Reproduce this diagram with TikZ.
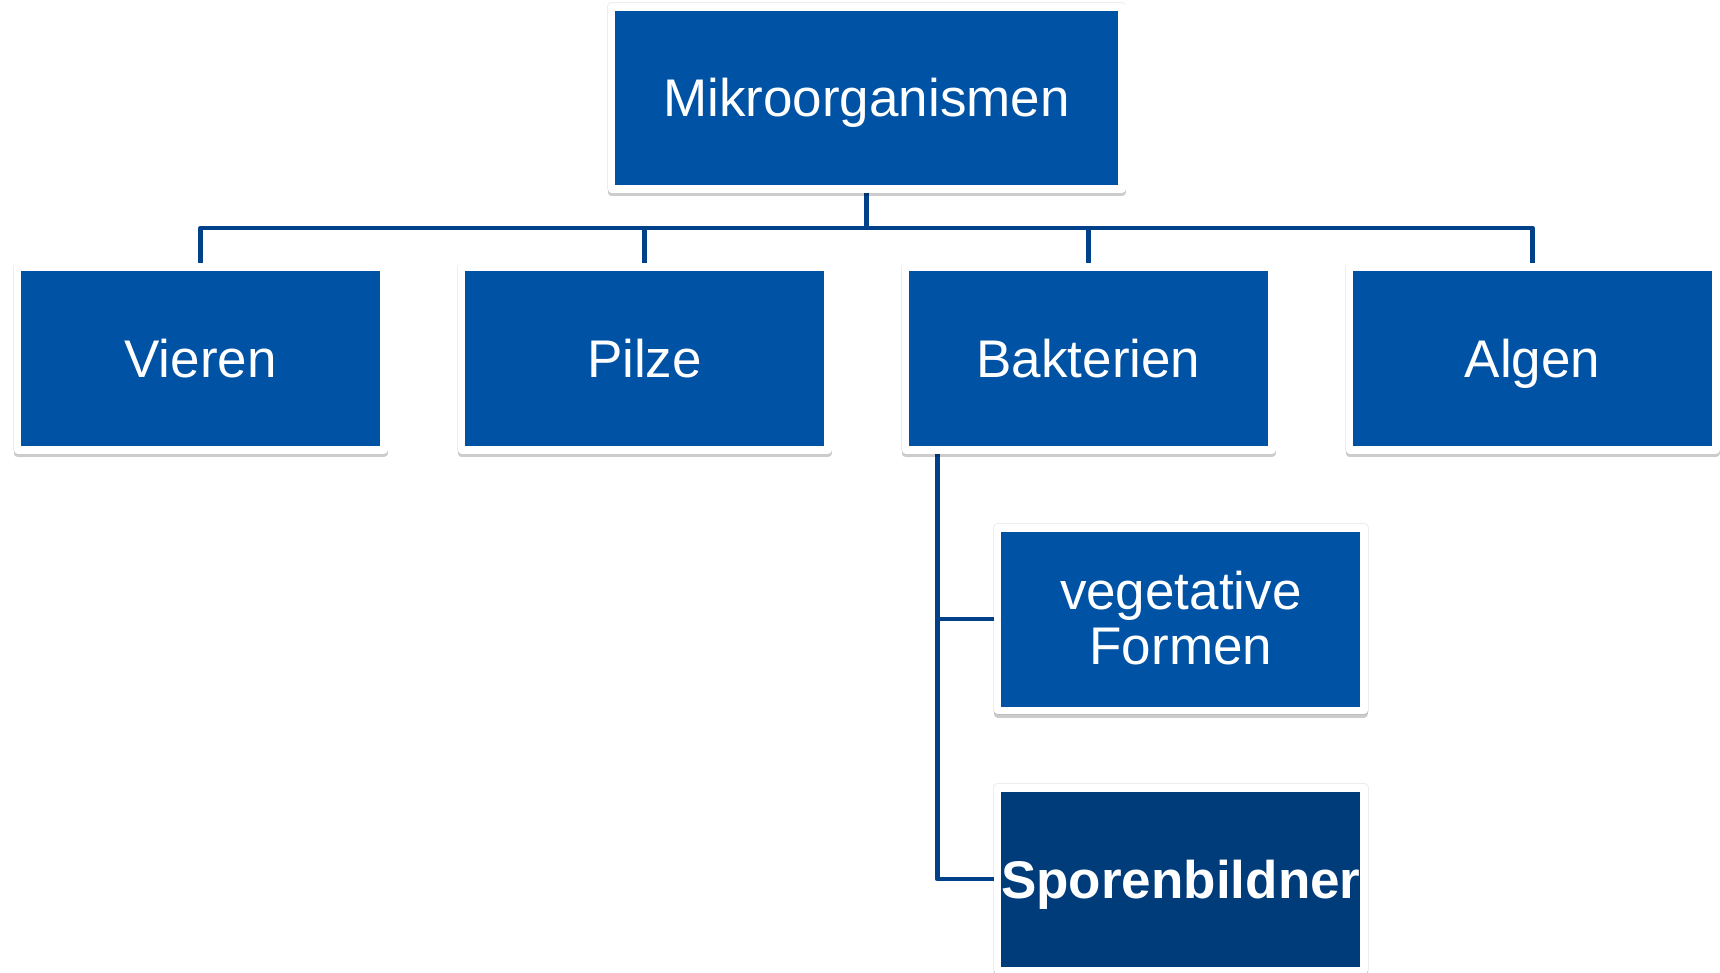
\documentclass[tikz,border=0pt]{standalone}
\usepackage{fontspec}
\setmainfont{Liberation Sans}
\usetikzlibrary{backgrounds}
\definecolor{boxblue}{RGB}{0,82,165}
\definecolor{darkbox}{RGB}{0,59,122}
\definecolor{lineblue}{RGB}{0,65,138}
\begin{document}
\begin{tikzpicture}[x=1pt,y=-1pt,
  box/.style={rectangle, fill=boxblue, draw=white, line width=7.5pt, line join=round,
    text=white, font=\fontsize{53}{55}\selectfont, align=center,
    text height=38pt, text depth=0pt, inner sep=0pt,
    minimum width=366.5pt, minimum height=182.5pt,
    preaction={fill=black, draw=black, line width=9pt, opacity=0.07},
    preaction={fill=black, draw=black, opacity=0.2, transform canvas={yshift=-3.5pt}}},
  conn/.style={draw=lineblue, line width=4.7pt, line join=round}]
\useasboundingbox (0,0) rectangle (1720,973);
\node[box, minimum width=510.5pt, minimum height=182pt] (top) at (866.5,98) {Mikroorganismen};
\node[box] (vieren) at (200.5,358.5) {Vieren};
\node[box] (pilze) at (644.5,358.5) {Pilze};
\node[box] (bakt) at (1088.5,358.5) {Bakterien};
\node[box] (algen) at (1532.5,358.5) {Algen};
\node[box, text height=91pt] (veg) at (1180.8,619) {vegetative\\Formen};
\node[box, fill=darkbox, font=\fontsize{53}{55}\bfseries\selectfont] (sporen) at (1180.8,879) {Sporenbildner};
\begin{scope}[on background layer]
\fill[white] (0,0) rectangle (1720,973);
\coordinate (bus) at (866.5,228);
\draw[conn] (top.south) -- (bus);
\draw[conn] (vieren.north) |- (bus) -| (algen.north);
\draw[conn] (pilze.north) -- (pilze.north |- bus);
\draw[conn] (bakt.north) -- (bakt.north |- bus);
\coordinate (bx) at ([xshift=35.75pt]bakt.south west);
\draw[conn] (bx) |- (sporen.west);
\draw[conn] (bx |- veg.west) -- (veg.west);
\end{scope}
\end{tikzpicture}
\end{document}
